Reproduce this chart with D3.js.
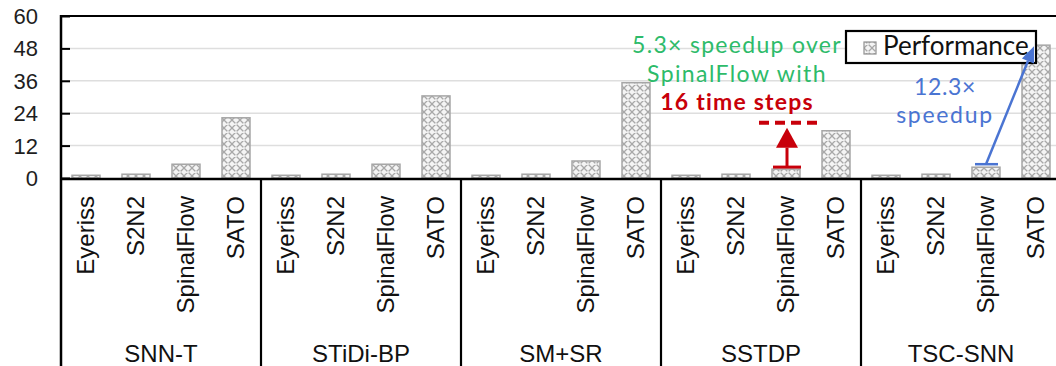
<!DOCTYPE html>
<html>
<head>
<meta charset="utf-8">
<script src="https://cdn.jsdelivr.net/npm/d3@7"></script>
<style>
  html, body { margin: 0; padding: 0; background: #fff; overflow: hidden; }
  svg { display: block; }
  .axis text { font-family: "Liberation Sans", Arial, sans-serif; }
</style>
</head>
<body>
<svg id="chart" width="1056" height="366"></svg>
<script>
// Benchmarks (outer category level) and accelerators (inner level)
const groups = ["SNN-T", "STiDi-BP", "SM+SR", "SSTDP", "TSC-SNN"];
const designs = ["Eyeriss", "S2N2", "SpinalFlow", "SATO"];

// Normalized performance, one array per accelerator, indexed like groups
const eyeriss    = [1.0, 1.0, 1.0, 1.0, 1.0];
const s2n2       = [1.4, 1.4, 1.4, 1.4, 1.4];
const spinalFlow = [5.1, 5.1, 6.3, 3.3, 4.0];
const sato       = [22.3, 30.4, 35.3, 17.5, 49.2];

const yTicks = [0, 12, 24, 36, 48, 60];
const legendLabel = "Performance";

// Callouts
const sstdpLines = ["5.3× speedup over", "SpinalFlow with", "16 time steps"];
const sstdp16Steps = 20.5;          // SpinalFlow level with 16 time steps
const tscLines = ["12.3×", "speedup"];

const seriesByDesign = { "Eyeriss": eyeriss, "S2N2": s2n2, "SpinalFlow": spinalFlow, "SATO": sato };
const rows = [];
groups.forEach((g, gi) => designs.forEach(d => rows.push({ group: g, design: d, value: seriesByDesign[d][gi] })));

const svg = d3.select("#chart");
const plotLeft = 61, plotTop = 16, plotBase = 178, groupW = 200;

const x0 = d3.scaleBand().domain(groups).range([plotLeft, plotLeft + groupW * groups.length]).padding(0);
const x1 = d3.scaleBand().domain(designs).range([0, x0.bandwidth()]).paddingInner(0.44).paddingOuter(0.22);
const y = d3.scaleLinear().domain([0, 60]).range([plotBase, plotTop]);

// Lattice hatch used for the bars and the legend key
const defs = svg.append("defs");
const pat = defs.append("pattern").attr("id", "lattice").attr("patternUnits", "userSpaceOnUse")
  .attr("width", 8).attr("height", 8);
pat.append("rect").attr("width", 8).attr("height", 8).attr("fill", "#f4f4f4");
pat.append("path").attr("d", "M0,0 L8,8 M8,0 L0,8 M-2,6 L2,10 M6,-2 L10,2 M-2,2 L2,-2 M6,10 L10,6")
  .attr("stroke", "#a8a8a8").attr("stroke-width", 1.3);
pat.append("circle").attr("cx", 4).attr("cy", 4).attr("r", 0.9).attr("fill", "#fff");

// Gridlines
svg.append("g").selectAll("line").data(yTicks.filter(t => t > 0 && t < 60)).join("line")
  .attr("x1", plotLeft).attr("x2", 1056).attr("y1", d => y(d)).attr("y2", d => y(d))
  .attr("stroke", "#dedede").attr("stroke-width", 1.5);

// Bars
svg.append("g").selectAll("rect").data(rows).join("rect")
  .attr("x", d => x0(d.group) + x1(d.design))
  .attr("width", x1.bandwidth())
  .attr("y", d => y(d.value))
  .attr("height", d => plotBase - y(d.value))
  .attr("fill", "url(#lattice)")
  .attr("stroke", "#a6a6a6").attr("stroke-width", 1.5);

// Value axis: inward ticks, labels on the left
const yAxis = svg.append("g").attr("class", "axis").attr("transform", `translate(${plotLeft},0)`)
  .call(d3.axisLeft(y).tickValues(yTicks).tickSize(-9).tickPadding(23).tickFormat(d3.format("d")));
yAxis.select(".domain").remove();
yAxis.selectAll(".tick line").attr("stroke", "#000").attr("stroke-width", 2);
yAxis.selectAll(".tick text").attr("font-size", 22).attr("fill", "#1e1e1e").attr("dy", "0.34em");

// Frame: top border, left axis, baseline
svg.append("line").attr("x1", plotLeft).attr("x2", 1056).attr("y1", plotTop).attr("y2", plotTop)
  .attr("stroke", "#000").attr("stroke-width", 2.2);
svg.append("line").attr("x1", plotLeft).attr("x2", plotLeft).attr("y1", plotTop - 1).attr("y2", 366)
  .attr("stroke", "#000").attr("stroke-width", 2.5);
svg.append("line").attr("x1", plotLeft).attr("x2", 1056).attr("y1", plotBase + 1).attr("y2", plotBase + 1)
  .attr("stroke", "#000").attr("stroke-width", 2.5);

// Group dividers in the category area
svg.append("g").selectAll("line").data(groups.slice(1)).join("line")
  .attr("x1", d => x0(d)).attr("x2", d => x0(d)).attr("y1", plotBase).attr("y2", 366)
  .attr("stroke", "#000").attr("stroke-width", 2.2);

// Inner category labels (rotated)
svg.append("g").attr("class", "axis").selectAll("text").data(rows).join("text")
  .attr("transform", d => `translate(${x0(d.group) + x1(d.design) + x1.bandwidth() / 2 + 8},196) rotate(-90)`)
  .attr("text-anchor", "end")
  .attr("font-size", 24).attr("fill", "#111")
  .text(d => d.design);

// Outer group labels
svg.append("g").attr("class", "axis").selectAll("text").data(groups).join("text")
  .attr("x", d => x0(d) + x0.bandwidth() / 2).attr("y", 362)
  .attr("text-anchor", "middle").attr("font-size", 24).attr("fill", "#111")
  .text(d => d);

// Legend
const ann = "Lato, 'Noto Sans', sans-serif";
const lg = svg.append("g");
lg.append("rect").attr("x", 846).attr("y", 31).attr("width", 190).attr("height", 32)
  .attr("fill", "#fff").attr("stroke", "#000").attr("stroke-width", 2.2);
lg.append("rect").attr("x", 864).attr("y", 42).attr("width", 12).attr("height", 12)
  .attr("fill", "url(#lattice)").attr("stroke", "#909090").attr("stroke-width", 1.2);
lg.append("text").attr("x", 883).attr("y", 55).attr("font-family", ann)
  .attr("font-size", 26).attr("fill", "#111").text(legendLabel);

// SSTDP callout
const gi = groups.indexOf("SSTDP");
const sfX = x0("SSTDP") + x1("SpinalFlow") + x1.bandwidth() / 2 + 1;
const green = "#2dbb6a", red = "#c8000a", blue = "#4a74d2";
const sText = svg.append("text").attr("text-anchor", "middle").attr("font-family", ann);
sText.append("tspan").attr("x", 737).attr("y", 53).attr("font-size", 23).attr("letter-spacing", 1.3)
  .attr("fill", green).text(sstdpLines[0]);
sText.append("tspan").attr("x", 737).attr("y", 81.5).attr("font-size", 23).attr("letter-spacing", 1.4)
  .attr("fill", green).text(sstdpLines[1]);
sText.append("tspan").attr("x", 737).attr("y", 110).attr("font-size", 23).attr("letter-spacing", 1.2)
  .attr("font-weight", "bold").attr("fill", red).text(sstdpLines[2]);

const capY = y(spinalFlow[gi]) - 2;
svg.append("line").attr("x1", sfX - 14).attr("x2", sfX + 14).attr("y1", capY).attr("y2", capY)
  .attr("stroke", red).attr("stroke-width", 3);
const headBase = y(sstdp16Steps) + 25, headTip = y(sstdp16Steps) + 5;
svg.append("line").attr("x1", sfX).attr("x2", sfX).attr("y1", capY).attr("y2", headBase)
  .attr("stroke", red).attr("stroke-width", 3);
svg.append("path")
  .attr("d", `M${sfX - 11},${headBase} L${sfX + 11},${headBase} L${sfX},${headTip} Z`)
  .attr("fill", red);
svg.append("line").attr("x1", sfX - 28).attr("x2", sfX + 32)
  .attr("y1", y(sstdp16Steps)).attr("y2", y(sstdp16Steps))
  .attr("stroke", red).attr("stroke-width", 4).attr("stroke-dasharray", "10,6");

// TSC-SNN callout
const ti = groups.indexOf("TSC-SNN");
const tsfX = x0("TSC-SNN") + x1("SpinalFlow") + x1.bandwidth() / 2;
const tsatoX = x0("TSC-SNN") + x1("SATO") + x1.bandwidth() / 2;
const tText = svg.append("text").attr("text-anchor", "middle").attr("font-family", ann).attr("fill", blue);
tText.append("tspan").attr("x", 945).attr("y", 95).attr("font-size", 23).attr("letter-spacing", 0.6).text(tscLines[0]);
tText.append("tspan").attr("x", 945).attr("y", 123).attr("font-size", 23).attr("letter-spacing", 1.7).text(tscLines[1]);

const tcapY = y(spinalFlow[ti]) - 3;
svg.append("line").attr("x1", tsfX - 11).attr("x2", tsfX + 12).attr("y1", tcapY).attr("y2", tcapY)
  .attr("stroke", blue).attr("stroke-width", 2.5);
const tip = [tsatoX - 2, y(sato[ti]) + 1];
const from = [tsfX, tcapY];
const ang = Math.atan2(tip[1] - from[1], tip[0] - from[0]);
const hl = 16, hw = 6.5;
const hb = [tip[0] - hl * Math.cos(ang), tip[1] - hl * Math.sin(ang)];
svg.append("line").attr("x1", from[0]).attr("y1", from[1]).attr("x2", hb[0]).attr("y2", hb[1])
  .attr("stroke", blue).attr("stroke-width", 2.5);
svg.append("path").attr("d",
  `M${tip[0]},${tip[1]} L${hb[0] + hw * Math.sin(ang)},${hb[1] - hw * Math.cos(ang)} L${hb[0] - hw * Math.sin(ang)},${hb[1] + hw * Math.cos(ang)} Z`)
  .attr("fill", blue);
</script>
</body>
</html>
